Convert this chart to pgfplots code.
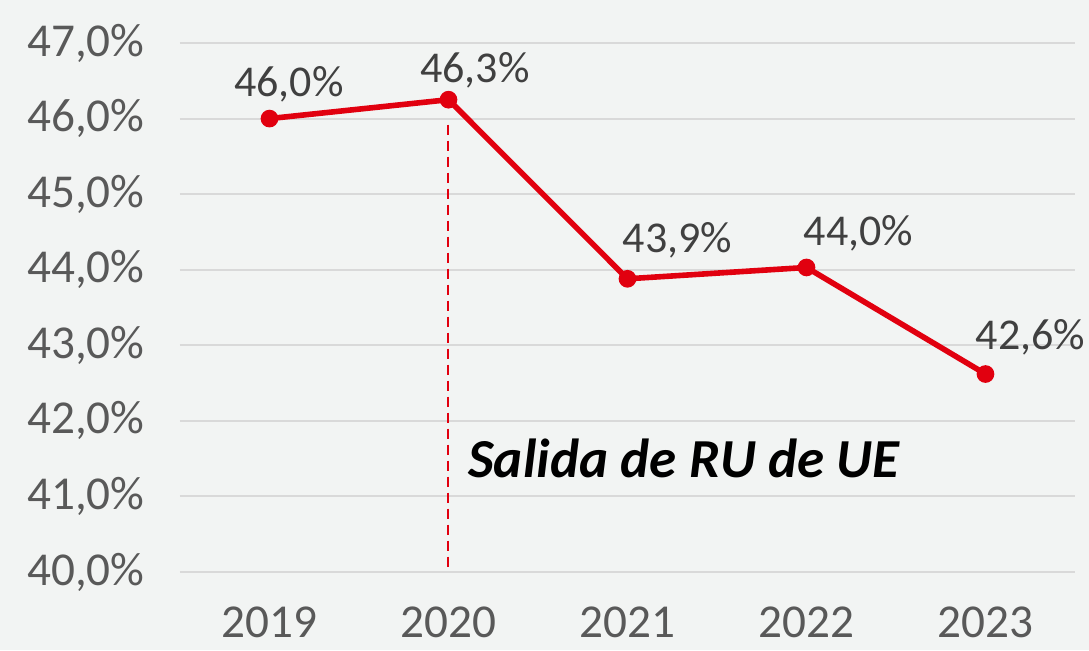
\documentclass[border=0pt]{standalone}
\usepackage{pgfplots}
\pgfplotsset{compat=1.18}
\usepackage{fontspec}
\setmainfont{Carlito}
\definecolor{bgc}{RGB}{242,244,243}
\definecolor{gridc}{RGB}{217,217,217}
\definecolor{linec}{RGB}{225,0,15}
\definecolor{tickc}{RGB}{89,89,89}
\definecolor{labc}{RGB}{64,64,64}
\begin{document}
\begin{tikzpicture}
\fill[bgc] (0,0) rectangle (544.5pt,-325pt);
\begin{axis}[
  at={(90pt,-286pt)}, anchor=south west,
  scale only axis, width=447.5pt, height=264.5pt,
  xmin=-0.5, xmax=4.5, ymin=40, ymax=47,
  axis line style={draw=none},
  major tick length=0pt,
  xtick={0,1,2,3,4},
  xticklabels={2019,2020,2021,2022,2023},
  ytick={40,41,42,43,44,45,46,47},
  ymajorgrids, grid style={gridc, line width=1pt},
  yticklabel={\pgfmathprintnumber[fixed,fixed zerofill,precision=1,use comma,assume math mode=true]{\tick}\%},
  yticklabel style={anchor=base east, inner sep=0pt, xshift=-17.5pt, yshift=-6.5pt, font=\fontsize{23.6}{28}\selectfont, text=tickc},
  xticklabel style={anchor=base, inner sep=0pt, yshift=-32.5pt, font=\fontsize{23.6}{28}\selectfont, text=tickc},
  clip=false,
]
\addplot[linec, line width=1pt, dashed, dash pattern=on 5pt off 3pt] coordinates {(1,45.92) (1,40.05)};
\addplot[linec, line width=2.8pt, mark=*, mark size=3pt, mark options={solid, fill=linec, draw=linec}]
  coordinates {(0,46.0) (1,46.25) (2,43.88) (3,44.03) (4,42.62)};
\begin{scope}[every node/.style={anchor=base, inner sep=0pt, font=\fontsize{22}{26}\selectfont, text=labc}]
\node at (axis cs:0.109,46.286) {46,0\%};
\node at (axis cs:1.148,46.484) {46,3\%};
\node at (axis cs:2.279,44.234) {43,9\%};
\node at (axis cs:3.291,44.327) {44,0\%};
\node at (axis cs:4.251,42.938) {42,6\%};
\end{scope}
\node[anchor=base west, inner sep=0pt, font=\fontsize{27.5}{32}\selectfont\bfseries\itshape] at (axis cs:1.109,41.257) {Salida de RU de UE};
\end{axis}
\pgfresetboundingbox
\path[use as bounding box] (0,0) rectangle (544.5pt,-325pt);
\end{tikzpicture}
\end{document}
